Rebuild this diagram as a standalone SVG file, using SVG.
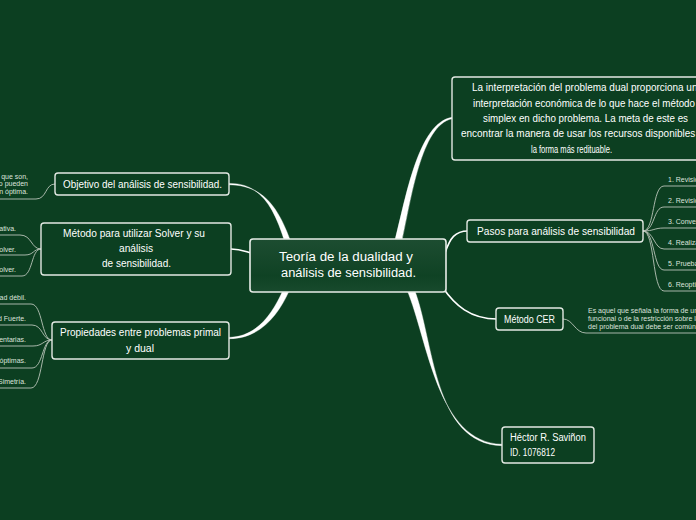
<svg xmlns="http://www.w3.org/2000/svg" width="696" height="520" viewBox="0 0 696 520">
<defs>
<linearGradient id="cg" x1="0" y1="0" x2="0" y2="1">
<stop offset="0" stop-color="#1d4d31"/>
<stop offset="0.7" stop-color="#0f4224"/>
<stop offset="1" stop-color="#184a2d"/>
</linearGradient>
</defs>
<style>
.bg{fill:#0c3f21}
.box{fill:#0c3f21;stroke:#e3e9e3;stroke-width:1.4}
.cbox{fill:url(#cg);stroke:#e8ede8;stroke-width:1.6}
.nt{font-family:"Liberation Sans",Arial,sans-serif;font-size:10px;fill:#ffffff}
.ct{font-family:"Liberation Sans",Arial,sans-serif;font-size:12.5px;fill:#ffffff}
.lt{font-family:"Liberation Sans",Arial,sans-serif;font-size:7px;fill:#dde3dd}
.thick{fill:#ffffff;stroke:#ffffff;stroke-width:0.4}
.mid{fill:none;stroke:#ffffff;stroke-width:1.6}
.thin{fill:none;stroke:#b9c4b9;stroke-width:0.9}
</style>
<rect class="bg" x="0" y="0" width="696" height="520"/>
<g id="connectors">
<path class="thick" d="M229,183.4 C261,183 274,208 284.5,241 L290.5,241 C278,207 263,185 229,184.7 Z"/>
<path class="mid" d="M231,249 C240,249 244,251 251,253"/>
<path class="thick" d="M229,337.4 C257,337 273,313 283,290 L289.5,290 C278,316 259,339 229,338.7 Z"/>
<path class="thick" d="M395,240 C406,198 418,123 452,117.3 L452,118.7 C421,125 411,200 402,240 Z"/>
<path class="mid" d="M445,253 C450,238 455,231 468,231"/>
<path class="mid" d="M443,288 C455,305 470,319 497,319"/>
<path class="thick" d="M407,290 C428,340 437,443 502,444.3 L502,445.7 C433,444 434,340 414.5,290 Z"/>
<path class="thin" d="M55,184 C45,184 47,199 36,199 L0,199"/>
<path class="thin" d="M41,249 C31,249 32,235 20,235 L0,235"/>
<path class="thin" d="M41,249 C33,249 34,255 25,255 L0,255"/>
<path class="thin" d="M41,249 C31,249 33,276 22,276 L0,276"/>
<path class="thin" d="M52,340 C41,340 43,304 31,304 L0,304"/>
<path class="thin" d="M52,340 C42,340 43,325 32,325 L0,325"/>
<path class="thin" d="M52,340 C43,340 43,346 33,346 L0,346"/>
<path class="thin" d="M52,340 C42,340 43,368 32,368 L0,368"/>
<path class="thin" d="M52,340 C41,340 43,388 31,388 L0,388"/>
<path class="thin" d="M643,231 C655,231 652,186 664,186 L696,186"/>
<path class="thin" d="M643,231 C655,231 653,207 664,207 L696,207"/>
<path class="thin" d="M643,231 C654,231 654,228 664,228 L696,228"/>
<path class="thin" d="M643,231 C654,231 654,249 664,249 L696,249"/>
<path class="thin" d="M643,231 C655,231 653,270 664,270 L696,270"/>
<path class="thin" d="M643,231 C655,231 652,291 664,291 L696,291"/>
<path class="thin" d="M563,319 C573,319 575,333 586,333 L696,333"/>
</g>
<g id="central">
<rect class="cbox" x="250" y="239" width="196" height="53" rx="3"/>
<text class="ct" x="279" y="261" textLength="134" lengthAdjust="spacingAndGlyphs">Teoría de la dualidad y</text>
<text class="ct" x="281" y="277" textLength="135" lengthAdjust="spacingAndGlyphs">análisis de sensibilidad.</text>
</g>
<g id="interpretacion">
<rect class="box" x="452" y="77" width="264" height="83" rx="3"/>
<text class="nt" x="472" y="91" textLength="231" lengthAdjust="spacingAndGlyphs">La interpretación del problema dual proporciona una</text>
<text class="nt" x="473" y="106.5" textLength="222" lengthAdjust="spacingAndGlyphs">interpretación económica de lo que hace el método</text>
<text class="nt" x="483" y="122" textLength="205" lengthAdjust="spacingAndGlyphs">simplex en dicho problema. La meta de este es</text>
<text class="nt" x="461" y="137" textLength="248" lengthAdjust="spacingAndGlyphs">encontrar la manera de usar los recursos disponibles de</text>
<text class="nt" x="531" y="152.5" textLength="81" lengthAdjust="spacingAndGlyphs">la forma más redituable.</text>
</g>
<g id="pasos">
<rect class="box" x="467" y="220" width="176" height="22" rx="3"/>
<text class="nt" x="477" y="235" textLength="158" lengthAdjust="spacingAndGlyphs">Pasos para análisis de sensibilidad</text>
<text class="lt" x="668" y="181.5">1. Revisión del modelo.</text>
<text class="lt" x="668" y="202.5">2. Revisión de la tabla final.</text>
<text class="lt" x="668" y="223.5">3. Conversión a la forma apropiada.</text>
<text class="lt" x="668" y="244.5">4. Realización de la prueba de factibilidad.</text>
<text class="lt" x="668" y="265.5">5. Prueba de optimalidad.</text>
<text class="lt" x="668" y="286.5">6. Reoptimización.</text>
</g>
<g id="cer">
<rect class="box" x="496" y="308" width="67" height="22" rx="3"/>
<text class="nt" x="504" y="322.5" textLength="51" lengthAdjust="spacingAndGlyphs">Método CER</text>
<text class="lt" x="588" y="312.5">Es aquel que señala la forma de una función</text>
<text class="lt" x="588" y="320.5">funcional o de la restricción sobre la cual</text>
<text class="lt" x="588" y="328.5">del problema dual debe ser común.</text>
</g>
<g id="autor">
<rect class="box" x="502" y="427" width="92" height="36" rx="3"/>
<text class="nt" x="510" y="441" textLength="76" lengthAdjust="spacingAndGlyphs">Héctor R. Saviñon</text>
<text class="nt" x="510" y="456" textLength="45" lengthAdjust="spacingAndGlyphs">ID. 1076812</text>
</g>
<g id="objetivo">
<rect class="box" x="55" y="173" width="174" height="22" rx="3"/>
<text class="nt" x="63" y="188" textLength="159" lengthAdjust="spacingAndGlyphs">Objetivo del análisis de sensibilidad.</text>
<text class="lt" x="28" y="178.5" text-anchor="end">Identificar los parámetros sensibles, es decir, los que son,</text>
<text class="lt" x="28" y="186" text-anchor="end">aquellos cuyos valores no pueden</text>
<text class="lt" x="28" y="193.5" text-anchor="end">cambiar sin cambiar la solución óptima.</text>
</g>
<g id="solver">
<rect class="box" x="41" y="223" width="190" height="52" rx="3"/>
<text class="nt" x="63" y="237" textLength="142" lengthAdjust="spacingAndGlyphs">Método para utilizar Solver y su</text>
<text class="nt" x="119" y="252" textLength="34" lengthAdjust="spacingAndGlyphs">análisis</text>
<text class="nt" x="102" y="267" textLength="69" lengthAdjust="spacingAndGlyphs">de sensibilidad.</text>
<text class="lt" x="16" y="230.5" text-anchor="end">Capturar el modelo en la hoja de forma representativa.</text>
<text class="lt" x="16" y="252" text-anchor="end">Resolver el modelo con Solver.</text>
<text class="lt" x="16" y="271.5" text-anchor="end">Obtener el informe de sensibilidad de Solver.</text>
</g>
<g id="propiedades">
<rect class="box" x="52" y="322" width="177" height="37" rx="3"/>
<text class="nt" x="60" y="336" textLength="161" lengthAdjust="spacingAndGlyphs">Propiedades entre problemas primal</text>
<text class="nt" x="126" y="352" textLength="28" lengthAdjust="spacingAndGlyphs">y dual</text>
<text class="lt" x="26" y="299.5" text-anchor="end">Propiedad de dualidad débil.</text>
<text class="lt" x="26" y="320.5" text-anchor="end">Propiedad de dualidad Fuerte.</text>
<text class="lt" x="26" y="341.5" text-anchor="end">Propiedad de soluciones complementarias.</text>
<text class="lt" x="26" y="362.5" text-anchor="end">Propiedad de soluciones complementarias óptimas.</text>
<text class="lt" x="26" y="383.5" text-anchor="end">Propiedad de Simetría.</text>
</g>
</svg>
